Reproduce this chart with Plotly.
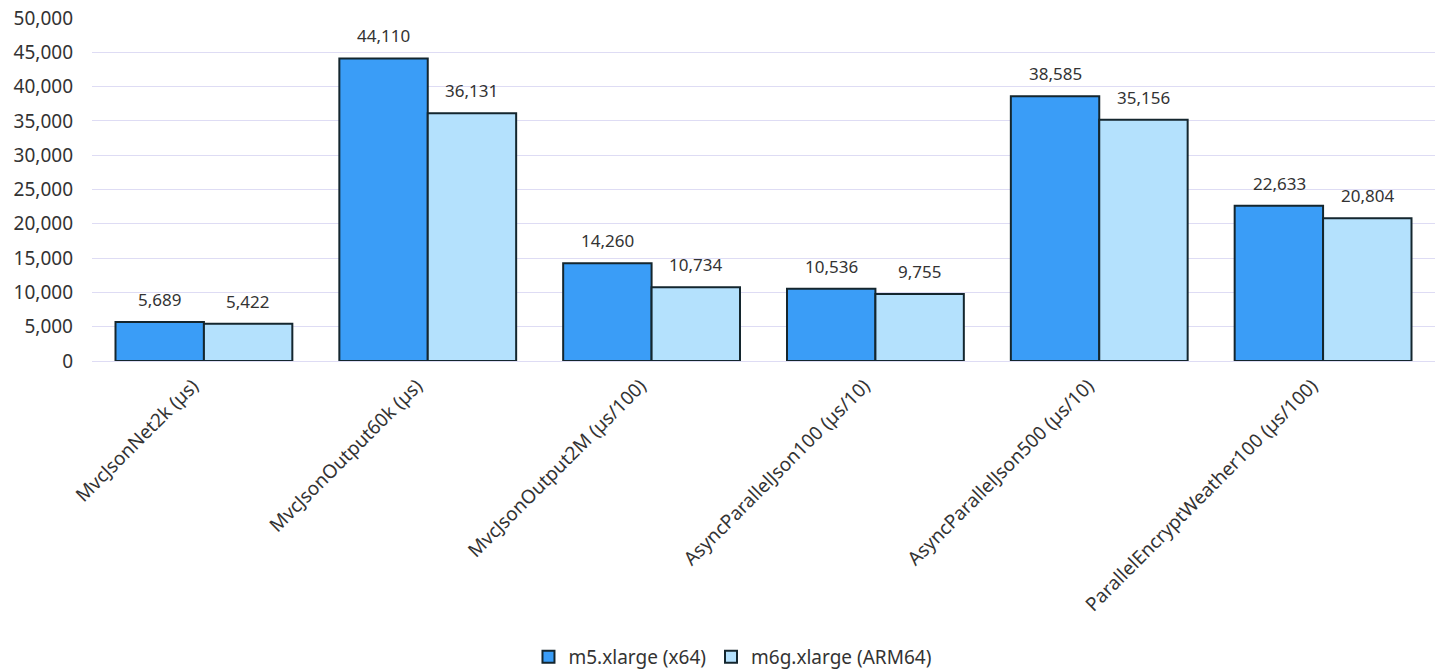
import plotly.graph_objects as go

categories = [
    "MvcJsonNet2k (µs)",
    "MvcJsonOutput60k (µs)",
    "MvcJsonOutput2M (µs/100)",
    "AsyncParallelJson100 (µs/10)",
    "AsyncParallelJson500 (µs/10)",
    "ParallelEncryptWeather100 (µs/100)",
]
m5_values = [5689, 44110, 14260, 10536, 38585, 22633]
m6g_values = [5422, 36131, 10734, 9755, 35156, 20804]
series_names = ["m5.xlarge (x64)", "m6g.xlarge (ARM64)"]
y_ticks = [0, 5000, 10000, 15000, 20000, 25000, 30000, 35000, 40000, 45000, 50000]

font_family = "Noto Sans, Open Sans, sans-serif"
text_color = "#333333"
outline = "#14262e"

fig = go.Figure()
series = [
    (series_names[0], m5_values, "#3a9df7", -44),
    (series_names[1], m6g_values, "#b4e1fd", 44),
]
for name, vals, color, shift in series:
    fig.add_trace(go.Bar(
        name=name,
        x=categories,
        y=vals,
        marker=dict(color=color, line=dict(color=outline, width=2)),
    ))
    for c, v in zip(categories, vals):
        fig.add_annotation(
            x=c, y=v, xref="x", yref="y",
            text=f"{v:,}", showarrow=False,
            xshift=shift, yshift=9, yanchor="bottom",
            font=dict(size=17, color=text_color, family=font_family),
        )

fig.update_layout(
    barmode="group",
    bargap=0.21,
    bargroupgap=0,
    width=1443,
    height=671,
    plot_bgcolor="white",
    paper_bgcolor="white",
    margin=dict(l=92, r=8, t=18, b=310, autoexpand=False),
    font=dict(family=font_family, color=text_color, size=19),
    showlegend=True,
    legend=dict(
        orientation="h",
        x=0.325,
        xanchor="left",
        yref="container",
        y=0.021,
        yanchor="middle",
        font=dict(size=19, color=text_color),
        traceorder="normal",
        itemwidth=30,
    ),
)
fig.update_yaxes(
    range=[0, 50000],
    tickvals=y_ticks,
    tickformat=",",
    gridcolor="#dedcf4",
    gridwidth=1,
    zeroline=True,
    zerolinecolor="#dedcf4",
    zerolinewidth=1,
    showline=False,
    ticks="",
    ticklabelstandoff=18,
    automargin=False,
    tickfont=dict(size=19, color=text_color),
)
fig.update_xaxes(
    tickangle=-45,
    showgrid=False,
    showline=False,
    ticks="",
    automargin=False,
    ticklabelshift=-11,
    ticklabelstandoff=9,
    tickfont=dict(size=19, color=text_color),
)

fig.write_html(
    "out.html",
    config={"displayModeBar": False},
    post_script="document.body.style.margin='0px';document.body.style.overflow='hidden';",
)
